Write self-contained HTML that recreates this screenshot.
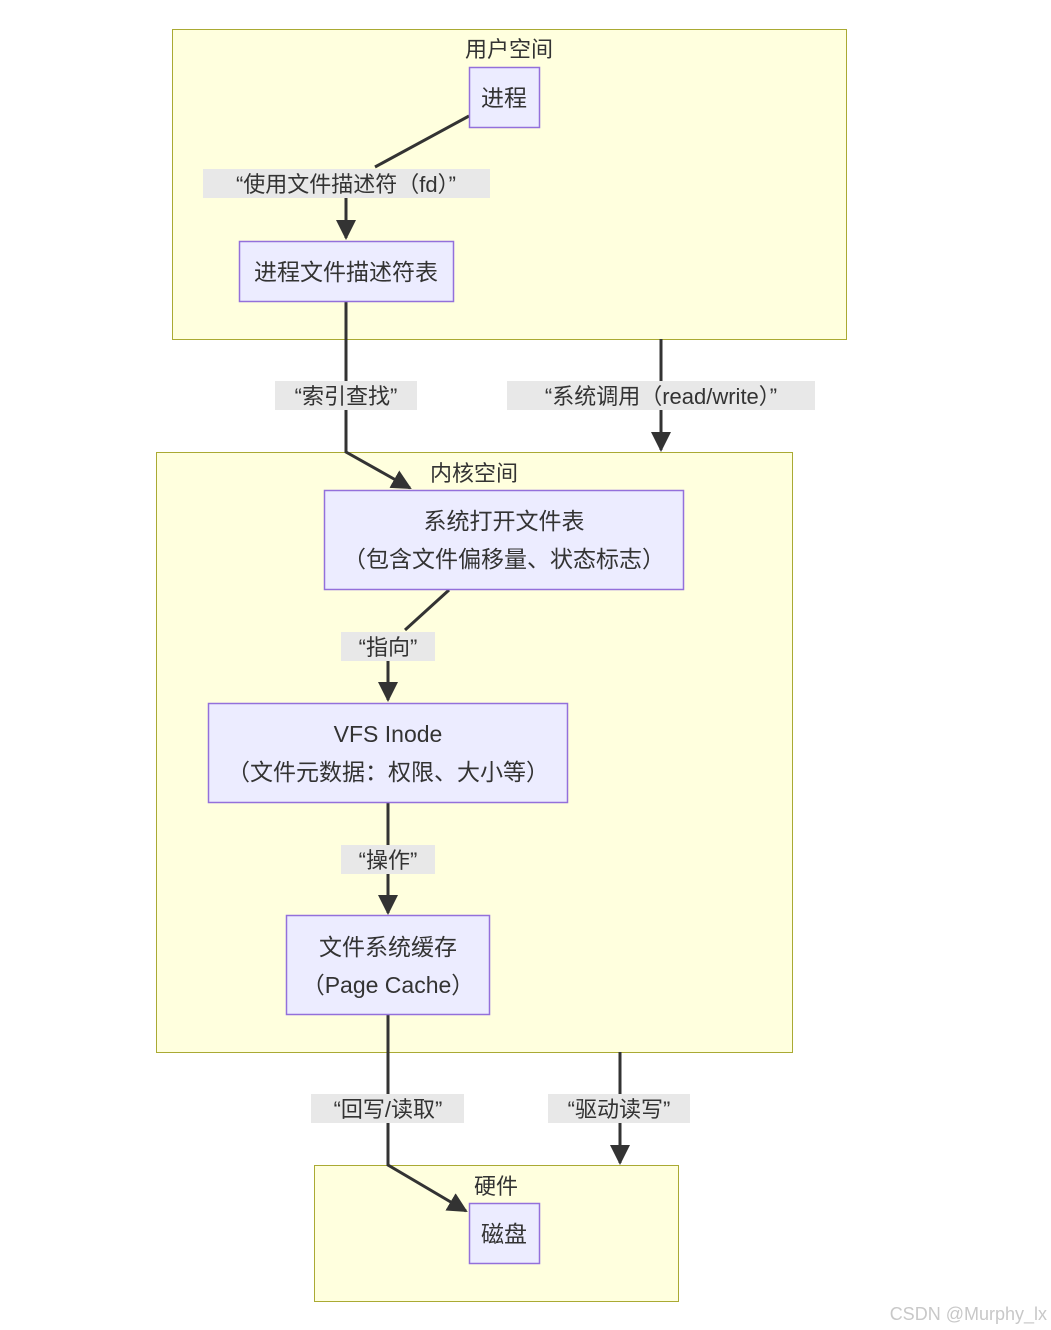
<!DOCTYPE html>
<html><head><meta charset="utf-8"><style>
html,body{margin:0;padding:0;background:#fff;}
svg{display:block;}
text{font-family:"Liberation Sans","Noto Sans CJK SC",sans-serif;fill:#333;}
</style></head><body>
<svg width="1051" height="1330" viewBox="0 0 1051 1330" xmlns="http://www.w3.org/2000/svg">
<defs><marker id="a" viewBox="0 0 10 10" refX="9" refY="5" markerWidth="9" markerHeight="9" markerUnits="userSpaceOnUse" orient="auto"><path d="M0,0L10,5L0,10z" fill="#333"/></marker>
<marker id="b" viewBox="0 0 10 10" refX="9" refY="5" markerWidth="20" markerHeight="20" markerUnits="userSpaceOnUse" orient="auto"><path d="M0,0L10,5L0,10z" fill="#333"/></marker></defs>
<!-- clusters -->
<rect x="172.5" y="29.5" width="674" height="310" fill="#ffffde" stroke="#aaaa33"/>
<rect x="156.5" y="452.5" width="636" height="600" fill="#ffffde" stroke="#aaaa33"/>
<rect x="314.5" y="1165.5" width="364" height="136" fill="#ffffde" stroke="#aaaa33"/>
<text x="509" y="57" font-size="22" text-anchor="middle">用户空间</text>
<text x="474" y="481" font-size="22" text-anchor="middle">内核空间</text>
<text x="496" y="1194" font-size="22" text-anchor="middle">硬件</text>
<!-- edges -->
<g stroke="#333" stroke-width="3" fill="none">
<path d="M469,116 L375,167"/>
<path d="M346,198 L346,238" marker-end="url(#b)"/>
<path d="M346,301 L346,452 L410,488" marker-end="url(#b)"/>
<path d="M661,339 L661,450" marker-end="url(#b)"/>
<path d="M449,590 L405,630"/>
<path d="M388,661 L388,700" marker-end="url(#b)"/>
<path d="M388,802 L388,913" marker-end="url(#b)"/>
<path d="M388,1014 L388,1165 L466,1211" marker-end="url(#b)"/>
<path d="M620,1052 L620,1163" marker-end="url(#b)"/>
</g>
<!-- edge labels -->
<g fill="#e8e8e8">
<rect x="203" y="169" width="287" height="29"/>
<rect x="275" y="381" width="142" height="29"/>
<rect x="507" y="381" width="308" height="29"/>
<rect x="341" y="632" width="94" height="29"/>
<rect x="341" y="845" width="94" height="29"/>
<rect x="311" y="1094" width="153" height="29"/>
<rect x="548" y="1094" width="142" height="29"/>
</g>
<g font-size="22" text-anchor="middle">
<text x="346" y="192">“使用文件描述符（fd）”</text>
<text x="346" y="404">“索引查找”</text>
<text x="661" y="404">“系统调用（read/write）”</text>
<text x="388" y="655">“指向”</text>
<text x="388" y="868">“操作”</text>
<text x="388" y="1117">“回写/读取”</text>
<text x="619" y="1117">“驱动读写”</text>
</g>
<!-- nodes -->
<g fill="#ececff" stroke="#9370db" stroke-width="1.5">
<rect x="469.5" y="67.5" width="70" height="60"/>
<rect x="239.5" y="241.5" width="214" height="60"/>
<rect x="324.5" y="490.5" width="359" height="99"/>
<rect x="208.5" y="703.5" width="359" height="99"/>
<rect x="286.5" y="915.5" width="203" height="99"/>
<rect x="469.5" y="1203.5" width="70" height="60"/>
</g>
<g font-size="23" text-anchor="middle">
<text x="504" y="106">进程</text>
<text x="346" y="280">进程文件描述符表</text>
<text x="504" y="529">系统打开文件表</text>
<text x="504" y="567">（包含文件偏移量、状态标志）</text>
<text x="388" y="742">VFS Inode</text>
<text x="388" y="780">（文件元数据：权限、大小等）</text>
<text x="388" y="955">文件系统缓存</text>
<text x="388" y="993">（Page Cache）</text>
<text x="504" y="1242">磁盘</text>
</g>
<text x="1047" y="1320" font-size="18" text-anchor="end" style="fill:#c8c8c8">CSDN @Murphy_lx</text>
</svg>
</body></html>
